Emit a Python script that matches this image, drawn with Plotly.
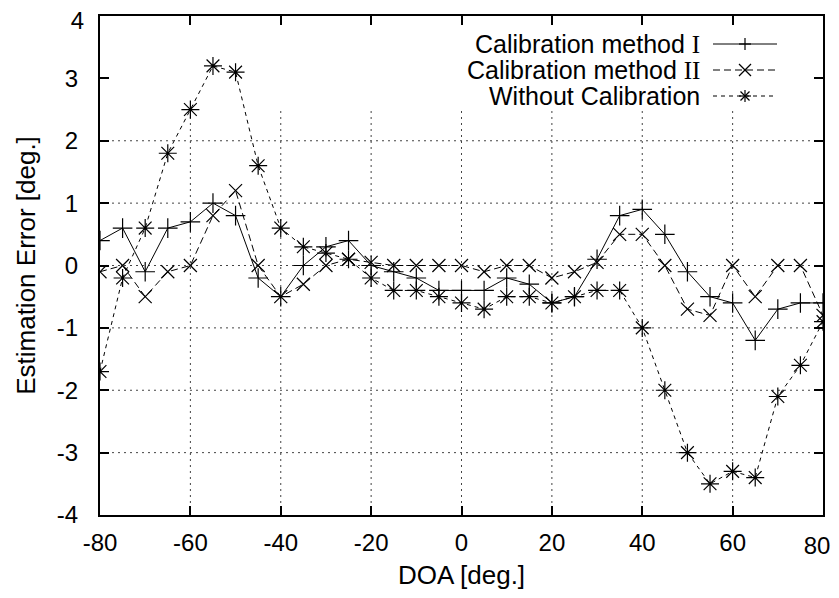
import plotly.graph_objects as go

doa = list(range(-80, 85, 5))

cal1 = [0.4, 0.6, -0.1, 0.6, 0.7, 1.0, 0.8, -0.2, -0.5, 0.0, 0.3, 0.4,
        0.0, -0.1, -0.2, -0.4, -0.4, -0.4, -0.2, -0.3, -0.6, -0.5, 0.1,
        0.8, 0.9, 0.5, -0.1, -0.5, -0.6, -1.2, -0.7, -0.6, -0.6]
cal2 = [-0.1, 0.0, -0.5, -0.1, 0.0, 0.8, 1.2, 0.0, -0.5, -0.3, 0.0, 0.1,
        0.05, 0.0, 0.0, 0.0, 0.0, -0.1, 0.0, 0.0, -0.2, -0.1, 0.05,
        0.5, 0.5, 0.0, -0.7, -0.8, 0.0, -0.5, 0.0, 0.0, -0.8]
nocal = [-1.7, -0.2, 0.6, 1.8, 2.5, 3.2, 3.1, 1.6, 0.6, 0.3, 0.2, 0.1,
         -0.2, -0.4, -0.4, -0.5, -0.6, -0.7, -0.5, -0.5, -0.6, -0.5, -0.4,
         -0.4, -1.0, -2.0, -3.0, -3.5, -3.3, -3.4, -2.1, -1.6, -0.9]

names = ["Calibration method ", "Calibration method ", "Without Calibration"]
numerals = ["I", "II", ""]

x_ticks = [-80, -60, -40, -20, 0, 20, 40, 60, 80]
y_ticks = [-4, -3, -2, -1, 0, 1, 2, 3, 4]
h_grid = [-3, -2, -1, 0, 1, 2]
v_grid = [-60, -40, -20, 0, 20, 40, 60]

# the page body adds an 8px margin; keep the figure inside the window (no scrollbars)
W, H = 823, 582
ML, MR, MT, MB = 92, 8, 8, 75
FONT = "Liberation Sans, Arial, Helvetica, sans-serif"
SERIF = "Liberation Serif, Times New Roman, serif"

fig = go.Figure()

fig.add_trace(go.Scatter(x=doa, y=cal1, mode="lines+markers",
                         line=dict(color="black", width=1),
                         marker=dict(symbol="cross-thin", size=14,
                                     line=dict(color="black", width=1.2)),
                         showlegend=False))
fig.add_trace(go.Scatter(x=doa, y=cal2, mode="lines+markers",
                         line=dict(color="black", width=1, dash="7px,4px"),
                         marker=dict(symbol="x-thin", size=13,
                                     line=dict(color="black", width=1.2)),
                         showlegend=False))
fig.add_trace(go.Scatter(x=doa, y=nocal, mode="lines+markers",
                         line=dict(color="black", width=1, dash="4px,4px"),
                         marker=dict(symbol="asterisk", size=15,
                                     line=dict(color="black", width=1.2)),
                         showlegend=False))

shapes = []
for yv in h_grid:
    shapes.append(dict(type="line", xref="x", yref="y", x0=-80, x1=80, y0=yv, y1=yv,
                       line=dict(color="#444", width=1, dash="2px,4px"), layer="below"))
for xv in v_grid:
    shapes.append(dict(type="line", xref="x", yref="y", x0=xv, x1=xv, y0=-4, y1=2.5,
                       line=dict(color="#444", width=1, dash="2px,4px"), layer="below"))

# manual gnuplot-style key (text on left, sample on right); pixel positions in figure coords
pw = W - ML - MR
ph = H - MT - MB


def px2paper(px, py):
    return (px - ML) / pw, (H - MB - py) / ph


rows_py = [36, 62, 88]
text_right_px = 694
line_px = (705, 769)
mark_px = 737
dashes = ["solid", "7px,4px", "4px,4px"]
annotations = []
for i, py in enumerate(rows_py):
    x0, y0 = px2paper(line_px[0], py)
    x1, _ = px2paper(line_px[1], py)
    shapes.append(dict(type="line", xref="paper", yref="paper", x0=x0, x1=x1, y0=y0, y1=y0,
                       line=dict(color="black", width=1, dash=dashes[i])))
    r = 6
    if i == 0:
        segs = [((-r, 0), (r, 0)), ((0, -r), (0, r))]
    elif i == 1:
        segs = [((-r, -r), (r, r)), ((-r, r), (r, -r))]
    else:
        segs = [((-r, 0), (r, 0)), ((0, -r), (0, r)),
                ((-r * 0.75, -r * 0.75), (r * 0.75, r * 0.75)),
                ((-r * 0.75, r * 0.75), (r * 0.75, -r * 0.75))]
    for (a, b) in segs:
        ax_, ay_ = px2paper(mark_px + a[0], py + a[1])
        bx_, by_ = px2paper(mark_px + b[0], py + b[1])
        shapes.append(dict(type="line", xref="paper", yref="paper", x0=ax_, x1=bx_,
                           y0=ay_, y1=by_, line=dict(color="black", width=1.2)))
    tx, ty = px2paper(text_right_px, py)
    label = names[i]
    if numerals[i]:
        label = names[i] + "<span style='font-family:" + SERIF + "'>" + numerals[i] + "</span>"
    annotations.append(dict(xref="paper", yref="paper", x=tx, y=ty, text=label,
                            xanchor="right", yanchor="middle", showarrow=False,
                            font=dict(family=FONT, size=25, color="black")))

fig.update_layout(
    width=W, height=H,
    margin=dict(l=ML, r=MR, t=MT, b=MB),
    paper_bgcolor="white", plot_bgcolor="white",
    font=dict(family=FONT, size=24, color="black"),
    shapes=shapes, annotations=annotations,
    showlegend=False,
)
# main axes carry all labels except the outermost ones, which sit on overlay axes
# nudged inward so they stay inside the page
x_text = [str(v) for v in x_ticks[:-1]] + [""]
y_text = [str(v) for v in y_ticks[:-1]] + [""]
fig.update_xaxes(range=[-80, 80], tickvals=x_ticks, ticktext=x_text,
                 ticks="inside", ticklen=9, tickwidth=2, tickcolor="black",
                 showline=True, linecolor="black", linewidth=2, mirror="ticks",
                 showgrid=False, zeroline=False, ticklabelstandoff=5, automargin=False,
                 ticklabeloverflow="allow",
                 title=dict(text="DOA [deg.]", font=dict(size=26), standoff=12))
fig.update_yaxes(range=[-4, 4], tickvals=y_ticks, ticktext=y_text,
                 ticks="inside", ticklen=9, tickwidth=2, tickcolor="black",
                 showline=True, linecolor="black", linewidth=2, mirror="ticks",
                 showgrid=False, zeroline=False, ticklabelstandoff=15, automargin=False,
                 ticklabeloverflow="allow",
                 title=dict(text="Estimation Error [deg.]", font=dict(size=26), standoff=14))
fig.update_layout(
    xaxis2=dict(overlaying="x", matches="x", side="bottom", anchor="y",
                range=[-80, 80], tickvals=x_ticks[-1:], ticktext=[str(x_ticks[-1])],
                ticks="", showline=False, showgrid=False, zeroline=False,
                ticklabelstandoff=14, ticklabelshift=-6, automargin=False,
                ticklabeloverflow="allow"),
    yaxis2=dict(overlaying="y", matches="y", side="left", anchor="x",
                range=[-4, 4], tickvals=y_ticks[-1:], ticktext=[str(y_ticks[-1])],
                ticks="", showline=False, showgrid=False, zeroline=False,
                ticklabelstandoff=15, ticklabelshift=5, automargin=False,
                ticklabeloverflow="allow"),
)
fig.add_trace(go.Scatter(x=[x_ticks[-1]], y=[None], xaxis="x2", yaxis="y2",
                         mode="markers", showlegend=False, hoverinfo="skip"))

fig.write_html("out.html")
